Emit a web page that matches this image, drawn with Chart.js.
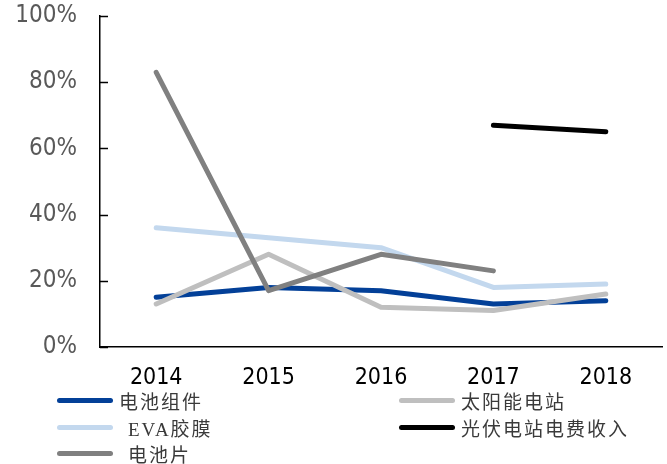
<!DOCTYPE html>
<html>
<head>
<meta charset="utf-8">
<script src="https://cdn.jsdelivr.net/npm/chart.js@4/dist/chart.umd.min.js"></script>
<style>
  body { margin: 0; background: #fff; }
  #wrap { position: relative; width: 667px; height: 464px; }
  #chartHolder { position: absolute; left: 0; top: 0; }
  .leg { position: absolute; display: flex; align-items: center; height: 24px;
         font-family: "Liberation Serif", "Noto Sans CJK SC", serif; font-size: 19px;
         letter-spacing: 2px; color: #3a3a3a; white-space: nowrap; }
  .leg .swatch { display: inline-block; width: 56px; height: 5px; border-radius: 3px; margin-right: 6px; }
</style>
</head>
<body>
<div id="wrap">
  <canvas id="chartHolder" width="667" height="464"></canvas>
  <div id="legendHolder"></div>
</div>
<script>
const years = ["2014", "2015", "2016", "2017", "2018"];
const yTicks = [0, 20, 40, 60, 80, 100];

// values in %
const cellModule = [15, 18, 17, 13, 14];        // 电池组件
const solarPlant = [13, 28, 12, 11, 16];        // 太阳能电站
const evaFilm = [36, 33, 30, 18, 19];           // EVA胶膜
const plantRevenue = [null, null, null, 67, 65]; // 光伏电站电费收入
const cells = [83, 17, 28, 23, null];           // 电池片

const chartHolder = document.getElementById("chartHolder");
const legendHolder = document.getElementById("legendHolder");

const series = [
  { label: "电池组件", data: cellModule, color: "#034098", order: 4 },
  { label: "太阳能电站", data: solarPlant, color: "#bfbfbf", order: 3 },
  { label: "EVA胶膜", data: evaFilm, color: "#c3d8ee", order: 2 },
  { label: "光伏电站电费收入", data: plantRevenue, color: "#000000", order: 1 },
  { label: "电池片", data: cells, color: "#808080", order: 0 }
];

// inward tick marks on the y axis
const innerTicks = {
  id: "innerTicks",
  afterDraw(chart) {
    const ctx = chart.ctx;
    const y = chart.scales.y;
    ctx.save();
    ctx.strokeStyle = "#000";
    ctx.lineWidth = 1.5;
    yTicks.forEach(t => {
      const py = Math.round(y.getPixelForValue(t)) + 0.5;
      ctx.beginPath();
      ctx.moveTo(y.right, py);
      ctx.lineTo(y.right + 8, py);
      ctx.stroke();
    });
    ctx.restore();
  }
};

new Chart(chartHolder, {
  type: "line",
  data: {
    labels: years,
    datasets: series.map(s => ({
      label: s.label,
      data: s.data,
      borderColor: s.color,
      backgroundColor: s.color,
      borderWidth: 5,
      borderCapStyle: "round",
      borderJoinStyle: "round",
      pointRadius: 0,
      tension: 0,
      spanGaps: false,
      order: s.order
    }))
  },
  options: {
    responsive: false,
    animation: false,
    layout: { padding: { top: 16, right: 5, bottom: 67, left: 0 } },
    plugins: {
      legend: { display: false },
      tooltip: { enabled: false }
    },
    scales: {
      x: {
        offset: true,
        grid: { display: false, drawTicks: false },
        border: { color: "#000", width: 1.5 },
        ticks: {
          padding: 17,
          color: "#000",
          font: { family: "DejaVu Sans Condensed", size: 23 }
        },
        afterFit(scale) { scale.height = 50; scale.paddingLeft = 0; scale.paddingRight = 0; }
      },
      y: {
        min: 0,
        max: 100,
        grid: { display: false, drawTicks: false },
        border: { color: "#000", width: 1.5 },
        ticks: {
          stepSize: 20,
          padding: 23,
          color: "#595959",
          font: { family: "DejaVu Sans Condensed", size: 24 },
          callback: v => v + "%"
        },
        afterFit(scale) { scale.width = 100; scale.paddingTop = 0; scale.paddingBottom = 0; }
      }
    }
  },
  plugins: [innerTicks]
});

// legend: two columns, filled row by row
const legendCols = [57, 399];
const legendRows = [400, 427, 453];
series.forEach((s, i) => {
  const item = document.createElement("div");
  item.className = "leg";
  item.style.left = legendCols[i % 2] + "px";
  item.style.top = (legendRows[Math.floor(i / 2)] - 12) + "px";
  const sw = document.createElement("span");
  sw.className = "swatch";
  sw.style.background = s.color;
  const txt = document.createElement("span");
  txt.innerText = s.label;
  if (i === 2 || i === 4) txt.style.paddingLeft = "9px";
  item.append(sw, txt);
  legendHolder.append(item);
});
</script>
</body>
</html>
